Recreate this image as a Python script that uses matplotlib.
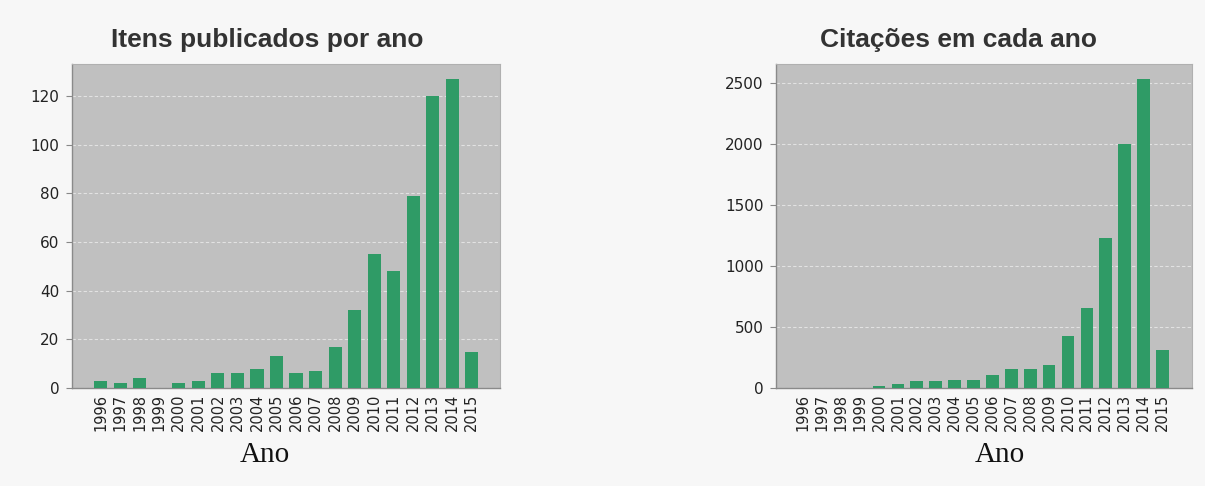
import numpy as np
import matplotlib
matplotlib.use('Agg')
import matplotlib.pyplot as plt

# dados
anos = ['1996', '1997', '1998', '1999', '2000', '2001', '2002', '2003', '2004', '2005',
        '2006', '2007', '2008', '2009', '2010', '2011', '2012', '2013', '2014', '2015']
itens = [3, 2, 4, 0, 2, 3, 6, 6, 8, 13, 6, 7, 17, 32, 55, 48, 79, 120, 127, 15]
citacoes = [0, 0, 0, 0, 16, 33, 57, 57, 68, 68, 109, 159, 159, 186, 430, 655, 1230, 2000, 2530, 315]

titulos = ['Itens publicados por ano', 'Citações em cada ano']
yticks_esq = [0, 20, 40, 60, 80, 100, 120]
yticks_dir = [0, 500, 1000, 1500, 2000, 2500]

cor_barra = '#2f9b66'
cor_fundo = '#c0c0c0'
cor_fig = '#f7f7f7'

fig = plt.figure(figsize=(12.05, 4.86), dpi=100)
fig.patch.set_facecolor(cor_fig)

ax1 = fig.add_axes([0.0598, 0.2016, 0.3552, 0.6667])
ax2 = fig.add_axes([0.644, 0.2016, 0.345, 0.6667])


def desenha(ax, valores, yticks, ymax, xlim):
    x = np.arange(len(anos))
    ax.set_facecolor(cor_fundo)
    ax.bar(x, valores, width=0.67, color=cor_barra, zorder=3)
    ax.set_xlim(xlim)
    ax.set_ylim(0, ymax)
    ax.set_xticks(x)
    ax.set_xticklabels(anos, rotation=90, fontsize=10.5, color='#222222', family='DejaVu Sans')
    ax.set_yticks(yticks)
    ax.set_yticklabels([str(v) for v in yticks], fontsize=11, color='#222222', family='DejaVu Sans')
    ax.tick_params(axis='x', length=0, pad=4)
    ax.tick_params(axis='y', length=4, width=0.8, color='#888888', pad=5)
    ax.grid(axis='y', color='#e2e2e2', linestyle=(0, (3, 2)), linewidth=0.8, zorder=1)
    for s in ['left', 'bottom']:
        ax.spines[s].set_color('#8a8a8a')
        ax.spines[s].set_linewidth(1.0)
    for s in ['top', 'right']:
        ax.spines[s].set_color('#b0b0b0')
        ax.spines[s].set_linewidth(0.8)


desenha(ax1, itens, yticks_esq, 133.2, (-1.47, 20.45))
desenha(ax2, citacoes, yticks_dir, 2656, (-1.45, 20.55))

fig.text(267.5 / 1205, 1 - 40 / 486, titulos[0], ha='center', va='center',
         fontsize=19, fontweight='bold', color='#333333', family='Liberation Sans')
fig.text(959 / 1205, 1 - 40 / 486, titulos[1], ha='center', va='center',
         fontsize=19, fontweight='bold', color='#333333', family='Liberation Sans')

fig.text(265 / 1205, 1 - 455 / 486, 'Ano', ha='center', va='center',
         fontsize=21, color='#111111', family='Liberation Serif')
fig.text(999.5 / 1205, 1 - 455 / 486, 'Ano', ha='center', va='center',
         fontsize=21, color='#111111', family='Liberation Serif')

fig.savefig('out.png', dpi=100, facecolor=cor_fig)
